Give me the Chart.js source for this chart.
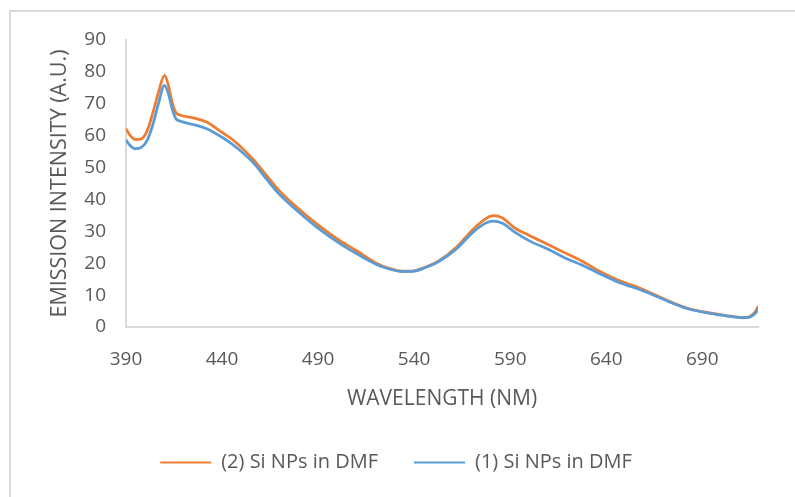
<!DOCTYPE html>
<html>
<head>
<meta charset="utf-8">
<script src="https://cdn.jsdelivr.net/npm/chart.js@4.4.1/dist/chart.umd.min.js"></script>
<style>
    body { margin: 0; background: #fff; }
    #wrap { position: relative; width: 795px; height: 497px; }
    #frame { position: absolute; left: 9px; top: 10px; right: 0; bottom: 0; border-left: 2px solid #d9d9d9; border-top: 2px solid #d9d9d9; }
    #chartCanvas { position: absolute; left: 0; top: 0; }
</style>
</head>
<body>
<div id="wrap">
    <div id="frame"></div>
    <canvas id="chartCanvas" width="795" height="497"></canvas>
</div>
<script>
// wavelength (nm)
const wavelengths = [390, 392, 395, 398, 401, 404, 407, 410, 412, 414, 416, 418, 425, 432, 440, 446, 456, 463, 470, 480, 490, 500, 510, 520, 527, 534, 540, 545, 553, 562, 571, 577, 581, 586, 592, 600, 610, 618, 627, 635, 647, 658, 665, 672, 682, 690, 699, 706, 711, 714, 716, 718, 719];

// (2) Si NPs in DMF
const series2 = [62.2, 60.2, 58.8, 59.0, 61.5, 67.2, 73.8, 78.9, 76.0, 70.5, 67.2, 66.5, 65.6, 64.3, 61.0, 58.5, 52.7, 47.6, 42.6, 37.0, 32.0, 27.6, 23.9, 20.1, 18.4, 17.5, 17.6, 18.6, 20.8, 25.0, 30.8, 33.8, 34.9, 34.2, 31.2, 28.7, 25.8, 23.4, 20.8, 18.0, 14.5, 12.1, 10.2, 8.3, 5.9, 4.8, 3.9, 3.3, 3.0, 3.1, 3.8, 5.2, 6.6];

// (1) Si NPs in DMF
const series1 = [58.7, 57.0, 55.9, 56.3, 58.5, 63.5, 70.3, 75.8, 73.3, 68.5, 65.3, 64.6, 63.5, 62.2, 59.5, 57.0, 51.7, 46.5, 41.5, 36.0, 31.0, 26.7, 23.0, 19.7, 18.2, 17.4, 17.5, 18.4, 20.6, 24.5, 29.9, 32.5, 33.2, 32.5, 29.9, 27.0, 24.3, 21.8, 19.5, 17.2, 13.9, 11.6, 9.9, 8.1, 5.8, 4.7, 3.8, 3.2, 2.9, 3.0, 3.5, 4.6, 5.6];

const xTicks = [390, 440, 490, 540, 590, 640, 690];
const yTicks = [0, 10, 20, 30, 40, 50, 60, 70, 80, 90];

const textColor = "#595959";
const fontFamily = "'Open Sans', sans-serif";

function toPoints(values){
    return values.map((v, i) => ({x: wavelengths[i], y: v}));
}

new Chart(document.getElementById("chartCanvas"), {
    type: "line",
    data: {
        datasets: [{
            label: "(2) Si NPs in DMF",
            data: toPoints(series2),
            borderColor: "#ED7D31",
            backgroundColor: "#ED7D31",
            borderWidth: 2.75,
            pointRadius: 0,
            cubicInterpolationMode: "monotone",
            order: 1
        }, {
            label: "(1) Si NPs in DMF",
            data: toPoints(series1),
            borderColor: "#5B9BD5",
            backgroundColor: "#5B9BD5",
            borderWidth: 2.75,
            pointRadius: 0,
            cubicInterpolationMode: "monotone",
            order: 0
        }]
    },
    options: {
        responsive: false,
        animation: false,
        layout: { padding: { left: 0, right: 3, top: 40, bottom: 14.5 } },
        plugins: {
            tooltip: { enabled: false },
            legend: {
                position: "bottom",
                labels: {
                    color: textColor,
                    font: { family: fontFamily, size: 20 },
                    boxWidth: 51,
                    boxHeight: 2,
                    padding: 36,
                    sort: (a, b) => a.datasetIndex - b.datasetIndex,
                    generateLabels: (chart) => {
                        const items = Chart.defaults.plugins.legend.labels.generateLabels(chart);
                        items.forEach(item => { item.lineWidth = 0; });
                        return items;
                    }
                }
            }
        },
        scales: {
            x: {
                type: "linear",
                min: 390,
                max: 719,
                grid: { display: false, drawTicks: false },
                border: { display: true, color: "#d9d9d9", width: 2 },
                afterBuildTicks: (scale) => { scale.ticks = xTicks.map(v => ({value: v})); },
                afterFit: (scale) => { scale.height = 89.5; },
                ticks: {
                    color: textColor,
                    font: { family: fontFamily, size: 19 },
                    padding: 21,
                    maxRotation: 0
                },
                title: {
                    display: true,
                    text: "WAVELENGTH (NM)",
                    color: textColor,
                    font: { family: fontFamily, size: 21 },
                    padding: { top: 0, bottom: 5 }
                }
            },
            y: {
                min: 0,
                max: 90,
                grid: { display: false, drawTicks: false },
                border: { display: true, color: "#d9d9d9", width: 2 },
                afterBuildTicks: (scale) => { scale.ticks = yTicks.map(v => ({value: v})); },
                afterFit: (scale) => { scale.width = 126; },
                ticks: {
                    color: textColor,
                    font: { family: fontFamily, size: 19 },
                    padding: 20
                },
                title: {
                    display: true,
                    text: "EMISSION INTENSITY (A.U.)",
                    color: textColor,
                    font: { family: fontFamily, size: 21.5 },
                    padding: { top: 47, bottom: 0 }
                }
            },
            y2: {
                position: "right",
                grid: { display: false, drawTicks: false },
                border: { display: false },
                ticks: { display: false },
                afterFit: (scale) => { scale.width = 34; }
            }
        }
    }
});
</script>
</body>
</html>
